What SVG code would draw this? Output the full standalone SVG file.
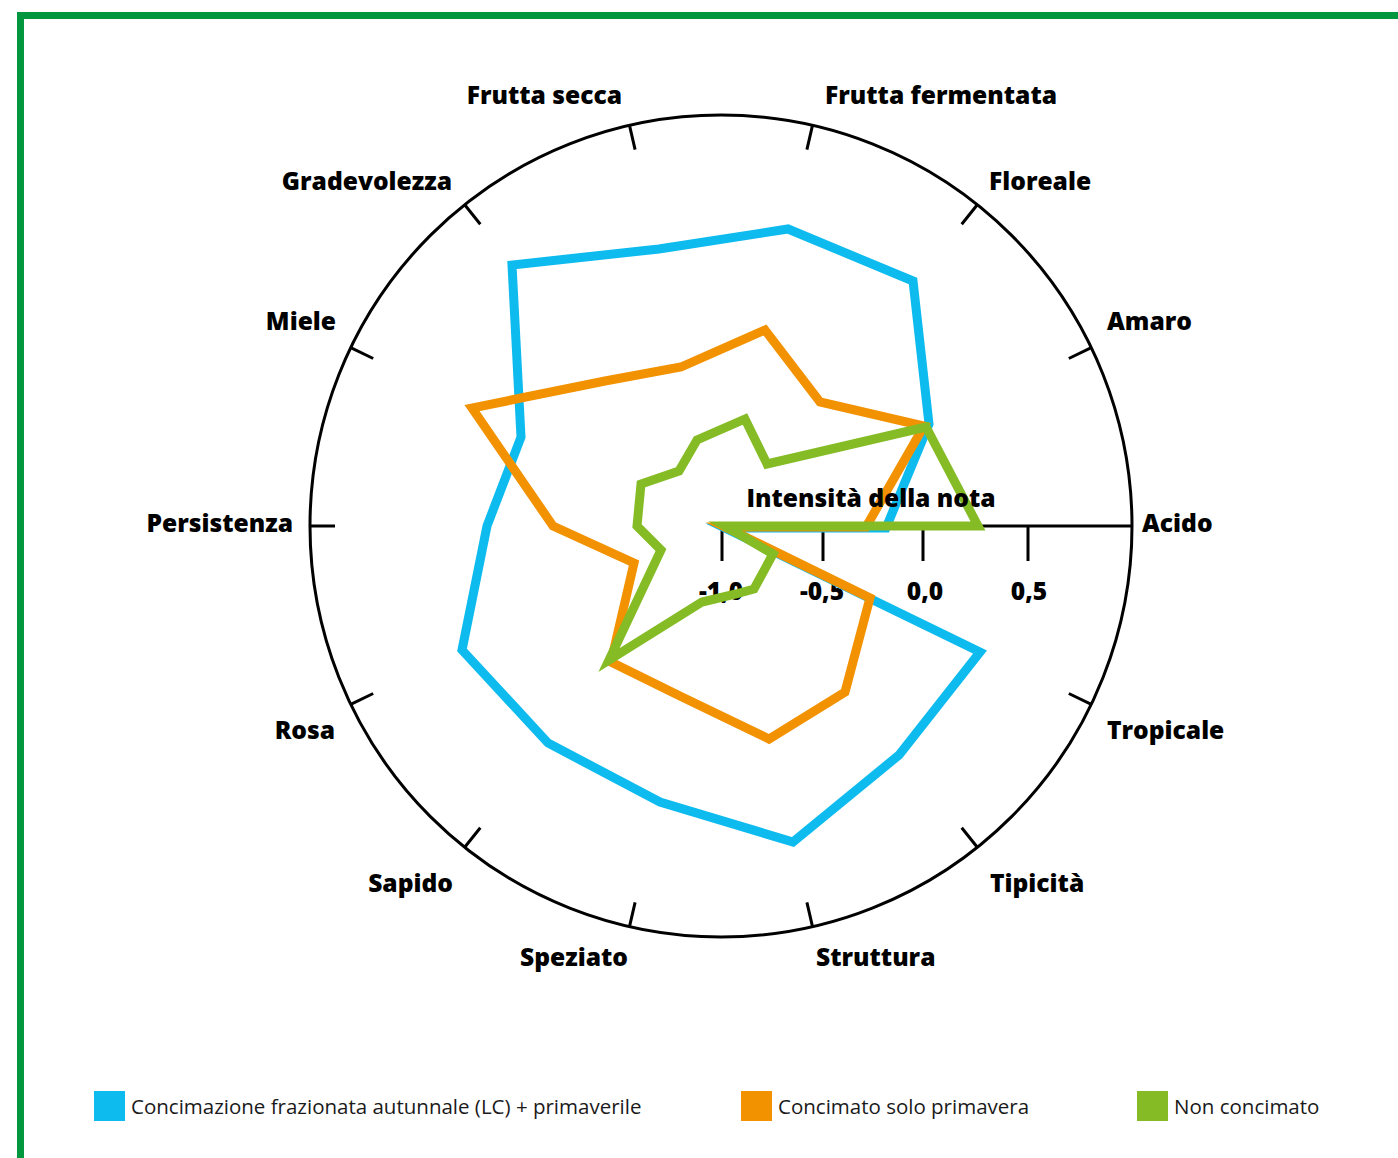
<svg xmlns="http://www.w3.org/2000/svg" width="1398" height="1158" viewBox="0 0 1398 1158">
<defs>
<style>
.frame{fill:#00973F}
.grid{fill:none;stroke:#000;stroke-width:3}
.tick{stroke:#000;stroke-width:3;fill:none}
.lbl{font-family:"Open Sans","Liberation Sans",sans-serif;font-weight:800;font-size:24.6px;fill:#000}
.num{font-family:"Open Sans","Liberation Sans",sans-serif;font-weight:800;font-size:24.6px;fill:#000;text-anchor:middle}
.leg{font-family:"Open Sans","Liberation Sans",sans-serif;font-weight:400;font-size:20.5px;fill:#1a1a1a}
.s{fill:none;stroke-width:9;stroke-linejoin:miter;stroke-miterlimit:10}
.blue{stroke:#0DBBEF}
.orange{stroke:#F39200}
.green{stroke:#85BC25}
</style>
</defs>
<rect width="1398" height="1158" fill="#fff"/>
<g id="frame">
<rect class="frame" x="17" y="12" width="1381" height="7"/>
<rect class="frame" x="17" y="12" width="7" height="1146"/>
</g>
<g id="grid">
<circle class="grid" cx="721" cy="526" r="411"/>
<path class="tick" d="M1091.3,347.7L1068.8,358.5M977.3,204.7L961.7,224.2M812.5,125.3L806.9,149.7M629.5,125.3L635.1,149.7M464.7,204.7L480.3,224.2M350.7,347.7L373.2,358.5M310,526L335,526M350.7,704.3L373.2,693.5M464.7,847.3L480.3,827.8M629.5,926.7L635.1,902.3M812.5,926.7L806.9,902.3M977.3,847.3L961.7,827.8M1091.3,704.3L1068.8,693.5"/>
</g>
<g id="axis">
<path class="tick" d="M721,526H1132M722,526V561M823,526V561M923,526V561M1028,526V561"/>
<text class="num" x="721" y="600">-1,0</text>
<text class="num" x="822" y="600">-0,5</text>
<text class="num" x="925" y="600">0,0</text>
<text class="num" x="1029" y="600">0,5</text>
</g>
<g id="connectors">
<polygon id="series-blue" class="s blue" points="725,528 886,528 929,424 913,281 788,229 659,249 512,265 521,437 487,526 462,650 548,743 660,802 793,842 899,755 980,652"/>
<polygon id="series-orange" class="s orange" points="725,527 866,527 924,426 820,402 765,330 681,367 605,381 472,408 553,526 634,563 611,662 682,697 769,739 845,692 870,598"/>
<polygon id="series-green" class="s green" points="725,526 978,526 926,427 767,464 745,419 697,440 679,471 641,484 637,526 661,550 609,660 702,602 736,594 754,589 773,554"/>
</g>
<g id="axis-title">
<text class="lbl" x="871" y="507" text-anchor="middle">Intensità della nota</text>
</g>
<g id="labels">
<g id="n-acido"><text class="lbl" x="1142" y="532">Acido</text></g>
<g id="n-amaro"><text class="lbl" x="1107" y="330">Amaro</text></g>
<g id="n-floreale"><text class="lbl" x="989" y="190">Floreale</text></g>
<g id="n-fruttaferm"><text class="lbl" x="825" y="104">Frutta fermentata</text></g>
<g id="n-fruttasecca"><text class="lbl" x="622" y="104" text-anchor="end">Frutta secca</text></g>
<g id="n-gradevolezza"><text class="lbl" x="452" y="190" text-anchor="end">Gradevolezza</text></g>
<g id="n-miele"><text class="lbl" x="336" y="330" text-anchor="end">Miele</text></g>
<g id="n-persistenza"><text class="lbl" x="293" y="532" text-anchor="end">Persistenza</text></g>
<g id="n-rosa"><text class="lbl" x="335" y="739" text-anchor="end">Rosa</text></g>
<g id="n-sapido"><text class="lbl" x="453" y="892" text-anchor="end">Sapido</text></g>
<g id="n-speziato"><text class="lbl" x="628" y="966" text-anchor="end">Speziato</text></g>
<g id="n-struttura"><text class="lbl" x="816" y="966">Struttura</text></g>
<g id="n-tipicita"><text class="lbl" x="990" y="892">Tipicità</text></g>
<g id="n-tropicale"><text class="lbl" x="1107" y="739">Tropicale</text></g>
</g>
<g id="legend">
<g id="leg-blue"><rect x="94" y="1091" width="31" height="30" fill="#0DBBEF"/><text class="leg" x="131" y="1114">Concimazione frazionata autunnale (LC) + primaverile</text></g>
<g id="leg-orange"><rect x="741" y="1091" width="31" height="30" fill="#F39200"/><text class="leg" x="778" y="1114">Concimato solo primavera</text></g>
<g id="leg-green"><rect x="1137" y="1091" width="31" height="30" fill="#85BC25"/><text class="leg" x="1174" y="1114">Non concimato</text></g>
</g>
</svg>
